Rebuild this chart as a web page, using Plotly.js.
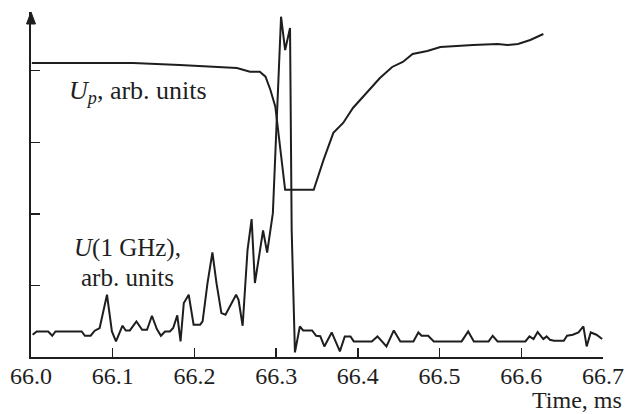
<!DOCTYPE html>
<html>
<head>
<meta charset="utf-8">
<script src="https://cdn.plot.ly/plotly-3.0.1.min.js"></script>
<style>html,body{margin:0;padding:0;background:#fff;}#chart{width:635px;height:414px;}</style>
</head>
<body>
<div id="chart"></div>
<script>
// U_p trace (time in ms, amplitude in arb. units = tick divisions)
const upTime = [66.001,66.125,66.182,66.252,66.268,66.280,66.287,66.293,66.299,66.301,66.311,66.346,66.358,66.370,66.382,66.394,66.411,66.427,66.442,66.455,66.467,66.485,66.501,66.517,66.541,66.571,66.583,66.596,66.611,66.627];
const upVal  = [4.107,4.107,4.080,4.038,3.986,3.986,3.916,3.731,3.498,3.312,2.335,2.335,2.754,3.131,3.270,3.479,3.703,3.898,4.052,4.122,4.233,4.275,4.331,4.345,4.359,4.373,4.359,4.373,4.429,4.513];

// U(1 GHz) trace
const gTime = [66.002,66.007,66.021,66.026,66.030,66.062,66.066,66.073,66.078,66.084,66.093,66.099,66.104,66.112,66.116,66.121,66.129,66.136,66.142,66.148,66.154,66.159,66.164,66.170,66.174,66.179,66.183,66.187,66.193,66.199,66.207,66.210,66.216,66.222,66.227,66.233,66.238,66.244,66.251,66.254,66.259,66.265,66.270,66.274,66.284,66.289,66.296,66.306,66.311,66.317,66.319,66.323,66.329,66.333,66.344,66.349,66.354,66.359,66.368,66.378,66.384,66.391,66.395,66.417,66.424,66.435,66.444,66.452,66.468,66.474,66.478,66.486,66.493,66.527,66.535,66.542,66.560,66.565,66.571,66.605,66.610,66.615,66.620,66.627,66.631,66.635,66.640,66.652,66.656,66.663,66.670,66.676,66.680,66.685,66.692,66.699];
const gVal  = [0.311,0.357,0.357,0.297,0.357,0.357,0.297,0.297,0.367,0.405,0.870,0.357,0.218,0.437,0.371,0.371,0.497,0.381,0.381,0.576,0.391,0.297,0.357,0.357,0.405,0.581,0.218,0.754,0.870,0.451,0.451,0.497,1.033,1.460,1.033,0.614,0.590,0.730,0.870,0.800,0.437,1.498,1.926,1.033,1.767,1.460,2.010,4.754,4.289,4.596,1.777,0.064,0.427,0.371,0.371,0.297,0.290,0.148,0.343,0.078,0.288,0.288,0.218,0.218,0.288,0.148,0.371,0.218,0.218,0.343,0.297,0.297,0.218,0.218,0.357,0.218,0.218,0.297,0.218,0.218,0.288,0.251,0.349,0.251,0.288,0.241,0.227,0.227,0.297,0.311,0.343,0.427,0.148,0.343,0.311,0.251];

const xTicks = [66.0,66.1,66.2,66.3,66.4,66.5,66.6,66.7];
const xTickText = ["66.0","66.1","66.2","66.3","66.4","66.5","66.6","66.7"];
const yTicks = [1,2,3,4];

const font = "Liberation Serif, Times New Roman, serif";
const ink = "#1e1e1e";

const traces = [
  {x: upTime, y: upVal, mode: "lines", line: {color: ink, width: 2}, hoverinfo: "skip"},
  {x: gTime, y: gVal, mode: "lines", line: {color: ink, width: 2}, hoverinfo: "skip"}
];

const layout = {
  width: 635, height: 414,
  margin: {l: 31, r: 32, t: 12, b: 57},
  paper_bgcolor: "#fff", plot_bgcolor: "#fff",
  showlegend: false,
  font: {family: font, size: 24, color: ink},
  xaxis: {
    range: [66.0, 66.7], tickvals: xTicks, ticktext: xTickText,
    ticks: "inside", ticklen: 9, tickwidth: 1.5, tickcolor: ink,
    ticklabelstandoff: -4,
    showline: true, linecolor: ink, linewidth: 2, showgrid: false, zeroline: false,
    tickfont: {family: font, size: 24, color: ink}, fixedrange: true
  },
  yaxis: {
    range: [0, 4.82], tickvals: yTicks, showticklabels: false,
    ticks: "inside", ticklen: 9, tickwidth: 1.5, tickcolor: ink,
    showline: true, linecolor: ink, linewidth: 2, showgrid: false, zeroline: false, fixedrange: true
  },
  shapes: [
    {type: "path", xref: "paper", yref: "paper", xsizemode: "pixel", ysizemode: "pixel",
     xanchor: 0, yanchor: 1, path: "M -4.5,-12 L 0,0 L 4.5,-12 Z",
     fillcolor: ink, line: {color: ink, width: 1}}
  ],
  annotations: [
    {x: 66.0437, y: 3.707, xref: "x", yref: "y", showarrow: false, xanchor: "left", yanchor: "middle",
     text: "<i>U</i><sub><i>p</i></sub>, arb. units", font: {family: font, size: 26, color: ink}},
    {x: 66.118, y: 1.317, xref: "x", yref: "y", showarrow: false, xanchor: "center", yanchor: "bottom",
     borderpad: 0, text: "<i>U</i>(1 GHz),", font: {family: font, size: 25, color: ink}},
    {x: 66.118, y: 1.317, xref: "x", yref: "y", showarrow: false, xanchor: "center", yanchor: "top",
     borderpad: 0, text: "arb. units", font: {family: font, size: 25, color: ink}},
    {x: 1.0355, y: -0.1658, xref: "paper", yref: "paper", showarrow: false, xanchor: "right", yanchor: "bottom",
     borderpad: 0, text: "Time, ms", font: {family: font, size: 24, color: ink}}
  ]
};

Plotly.newPlot("chart", traces, layout, {staticPlot: true, displayModeBar: false});
</script>
</body>
</html>
